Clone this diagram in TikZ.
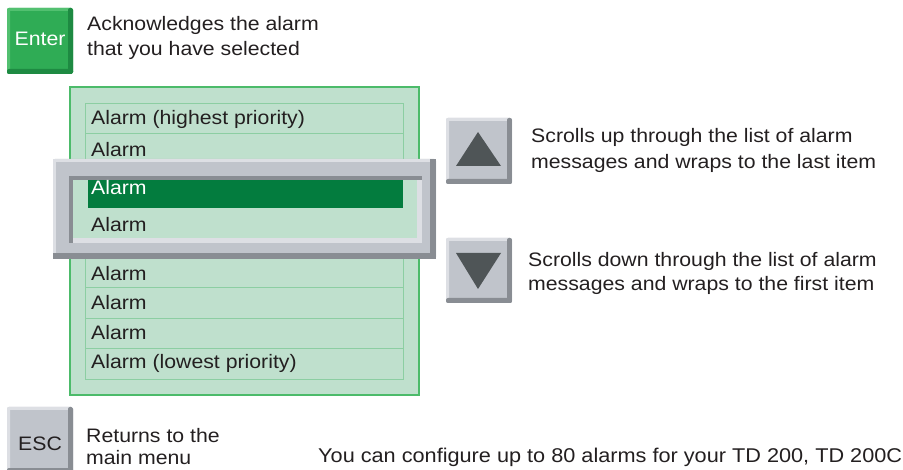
\documentclass[tikz,border=0pt]{standalone}
\usepackage{fontspec}
\setmainfont{Liberation Sans}[FakeStretch=1.09]
\usetikzlibrary{positioning}
\definecolor{entergreen}{RGB}{47,172,85}
\definecolor{enterlight}{RGB}{82,192,112}
\definecolor{enterdark} {RGB}{30,138,66}
\definecolor{panelfill} {RGB}{191,224,205}
\definecolor{panelline} {RGB}{76,187,106}
\definecolor{rowline}   {RGB}{140,206,162}
\definecolor{selgreen}  {RGB}{3,124,62}
\definecolor{keygray}   {RGB}{192,196,203}
\definecolor{keylight}  {RGB}{221,223,228}
\definecolor{keydark}   {RGB}{137,141,147}
\definecolor{tridark}   {RGB}{79,85,87}
\definecolor{textdark}  {RGB}{35,31,32}
\tikzset{
  keybox/.style 2 args={rectangle, rounded corners=2pt, inner sep=0pt,
                  minimum width=66pt, minimum height=66pt,
                  font=\fontsize{19.5}{21}\selectfont,
                  path picture={
                    \fill[#1] (path picture bounding box.north west) rectangle
                      ([yshift=-3pt]path picture bounding box.north east);
                    \fill[#1] (path picture bounding box.north west) rectangle
                      ([xshift=3pt]path picture bounding box.south west);
                    \fill[#2] ([xshift=-5pt]path picture bounding box.north east)
                      rectangle (path picture bounding box.south east);
                    \fill[#2] ([yshift=5pt]path picture bounding box.south west)
                      rectangle (path picture bounding box.south east);}},
  enterkey/.style={keybox={enterlight}{enterdark}, fill=entergreen, text=white,
                  text height=14pt, text depth=5pt},
  graykey/.style ={keybox={keylight}{keydark}, fill=keygray, text=textdark},
  desc/.style    ={align=left, inner sep=0pt, anchor=north west, text=textdark,
                  font=\fontsize{19.5}{25}\selectfont},
  rowtext/.style ={inner sep=0pt, anchor=base west, text=textdark,
                  font=\fontsize{19.5}{22}\selectfont},
  tri/.style     ={fill=tridark},
}

\begin{document}
\begin{tikzpicture}[x=1pt,y=-1pt]
  \useasboundingbox (0,0) rectangle (903,470);
  % keys with their texts
  \node[enterkey] (enter) at (40,41) {Enter};
  \node[desc] (enterdesc) at (87,16) {Acknowledges the alarm\\that you have selected};
  \node[graykey, text height=20pt, text depth=0pt] (esc) at (40,440) {ESC};
  \node[desc, font=\fontsize{19.5}{22}\selectfont] (escdesc) at (86,428) {Returns to the\\main menu};
  \node[desc, anchor=base west, font=\fontsize{19.9}{25}\selectfont] (note) at (318,463) {You can configure up to 80 alarms for your TD 200, TD 200C};

  % alarm list
  \fill[panelfill, draw=panelline, line width=2pt] (70,87) rectangle (419,395);
  \draw[rowline] (85,103) rectangle (403,379);
  \foreach \y in {133,164,256,287,318,348}
    \draw[rowline] (85,\y) -- (403,\y);
  \node[rowtext] (r1) at (91,124.5) {Alarm (highest priority)};
  \node[rowtext] (r2) at (91,157) {Alarm};
  \node[rowtext] (r5) at (91,280.5) {Alarm};
  \node[rowtext] (r6) at (91,309.5) {Alarm};
  \node[rowtext] (r7) at (91,339.5) {Alarm};
  \node[rowtext] (r8) at (91,368.5) {Alarm (lowest priority)};

  % magnifier frame
  \fill[keygray, rounded corners=2pt] (53,159) rectangle (436,259);
  \fill[keylight] (53,159) rectangle (436,162);
  \fill[keylight] (53,159) rectangle (56,259);
  \fill[keydark] (430,159) rectangle (436,259);
  \fill[keydark] (53,253) rectangle (436,259);
  \fill[panelfill] (69,176) rectangle (422,243);
  \fill[keydark] (69,176) rectangle (422,180);
  \fill[keydark] (69,176) rectangle (73,243);
  \fill[keylight] (417,180) rectangle (422,243);
  \fill[keylight] (73,238) rectangle (422,243);
  \fill[selgreen] (88,180) rectangle (403,208);
  \node[rowtext, text=white] (r3) at (91,195) {Alarm};
  \node[rowtext] (r4) at (91,231.5) {Alarm};

  % scroll keys
  \node[graykey] (up) at (479,151) {};
  \fill[tri] (478,132) -- (501,166) -- (456,166) -- cycle;
  \node[desc, font=\fontsize{19.5}{26}\selectfont] (updesc) at (531,128) {Scrolls up through the list of alarm\\messages and wraps to the last item};
  \node[graykey, minimum height=65pt] (down) at (479,270.5) {};
  \fill[tri] (456,253) -- (501,253) -- (478,289) -- cycle;
  \node[desc, font=\fontsize{19.5}{24}\selectfont] (downdesc) at (528,252) {Scrolls down through the list of alarm\\messages and wraps to the first item};
\end{tikzpicture}
\end{document}
